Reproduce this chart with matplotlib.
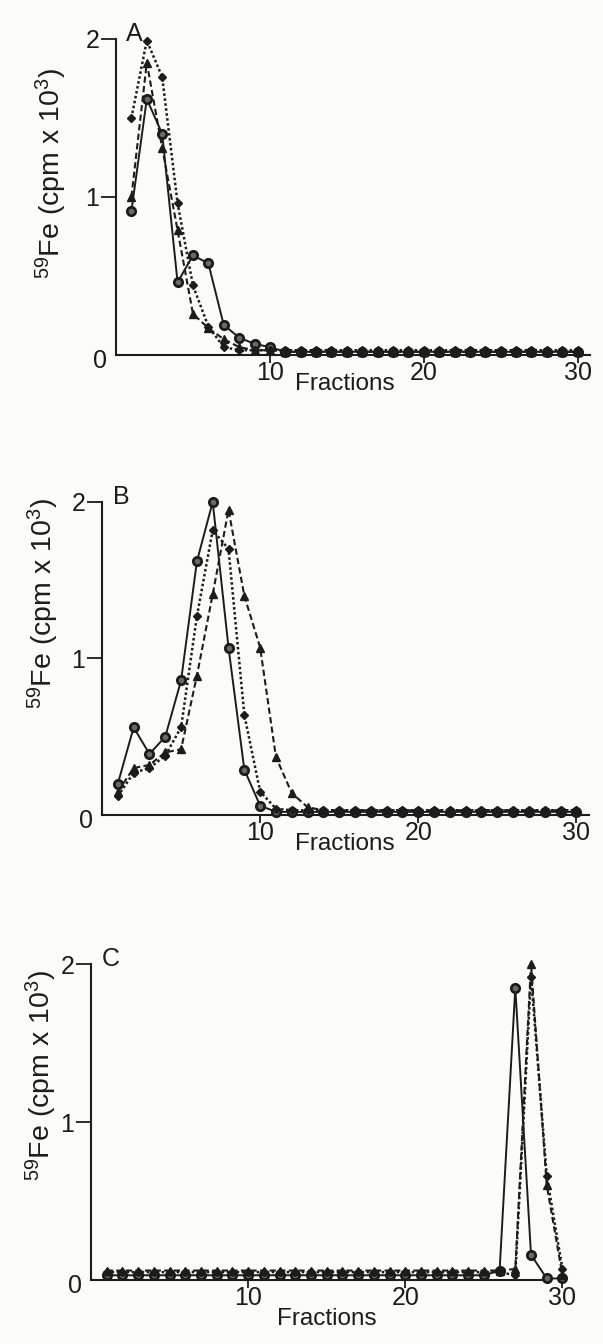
import matplotlib
matplotlib.use('Agg')
import matplotlib.pyplot as plt

plt.rcParams['font.family'] = ['Liberation Sans', 'DejaVu Sans']
plt.rcParams['mathtext.fontset'] = 'custom'
plt.rcParams['mathtext.rm'] = 'Liberation Sans'
plt.rcParams['mathtext.it'] = 'Liberation Sans'

INK = '#1c1c1c'

fractions = list(range(1, 31))

# panel A
a_circles = [0.91, 1.62, 1.40, 0.46, 0.63, 0.58, 0.19, 0.11, 0.07, 0.05,
             0.02, 0.02, 0.02, 0.02, 0.02, 0.02, 0.02, 0.02, 0.02, 0.02,
             0.02, 0.02, 0.02, 0.02, 0.02, 0.02, 0.02, 0.02, 0.02, 0.02]
a_triangles = [1.00, 1.85, 1.31, 0.79, 0.26, 0.17, 0.10, 0.05, 0.03, 0.03,
               0.02, 0.02, 0.02, 0.02, 0.02, 0.02, 0.02, 0.02, 0.02, 0.02,
               0.02, 0.02, 0.02, 0.02, 0.02, 0.02, 0.02, 0.02, 0.02, 0.02]
a_diamonds = [1.50, 1.99, 1.76, 0.96, 0.44, 0.18, 0.05, 0.03, 0.03, 0.03,
              0.03, 0.03, 0.03, 0.03, 0.03, 0.03, 0.03, 0.03, 0.03, 0.03,
              0.03, 0.03, 0.03, 0.03, 0.03, 0.03, 0.03, 0.03, 0.03, 0.03]

# panel B
b_circles = [0.20, 0.56, 0.39, 0.50, 0.86, 1.62, 2.00, 1.07, 0.29, 0.06,
             0.02, 0.02, 0.02, 0.02, 0.02, 0.02, 0.02, 0.02, 0.02, 0.02,
             0.02, 0.02, 0.02, 0.02, 0.02, 0.02, 0.02, 0.02, 0.02, 0.02]
b_diamonds = [0.12, 0.27, 0.30, 0.38, 0.56, 1.27, 1.82, 1.70, 0.64, 0.15,
              0.04, 0.03, 0.03, 0.03, 0.03, 0.03, 0.03, 0.03, 0.03, 0.03,
              0.03, 0.03, 0.03, 0.03, 0.03, 0.03, 0.03, 0.03, 0.03, 0.03]
b_triangles = [0.15, 0.30, 0.32, 0.40, 0.42, 0.89, 1.41, 1.95, 1.40, 1.07,
               0.37, 0.14, 0.05, 0.03, 0.03, 0.03, 0.03, 0.03, 0.03, 0.03,
               0.03, 0.03, 0.03, 0.03, 0.03, 0.03, 0.03, 0.03, 0.03, 0.03]

# panel C
c_circles = [0.03, 0.03, 0.03, 0.03, 0.03, 0.03, 0.03, 0.03, 0.03, 0.03,
             0.03, 0.03, 0.03, 0.03, 0.03, 0.03, 0.03, 0.03, 0.03, 0.03,
             0.03, 0.03, 0.03, 0.03, 0.03, 0.06, 1.85, 0.16, 0.01, 0.01]
c_triangles = [0.06, 0.06, 0.06, 0.06, 0.06, 0.06, 0.06, 0.06, 0.06, 0.06,
               0.06, 0.06, 0.06, 0.06, 0.06, 0.06, 0.06, 0.06, 0.06, 0.06,
               0.06, 0.06, 0.06, 0.06, 0.06, 0.06, 0.07, 2.00, 0.60, 0.03]
c_diamonds = [0.05, 0.05, 0.05, 0.05, 0.05, 0.05, 0.05, 0.05, 0.05, 0.05,
              0.05, 0.05, 0.05, 0.05, 0.05, 0.05, 0.05, 0.05, 0.05, 0.05,
              0.05, 0.05, 0.05, 0.05, 0.05, 0.05, 0.03, 1.92, 0.66, 0.07]

y_ticks = [1, 2]
x_ticks = [10, 20, 30]
y_label = r'$^{\mathrm{59}}$Fe (cpm x 10$^{\mathrm{3}}$)'


def draw_panel(ax, letter, circles, triangles, diamonds):
    ax.plot(fractions, circles, color=INK, linestyle='-', linewidth=1.4,
            marker='o', markersize=6, markeredgewidth=2.0,
            markerfacecolor='#6a6a6a', markeredgecolor=INK, clip_on=False, zorder=3)
    ax.plot(fractions, triangles, color=INK, linestyle=(0, (3, 1.6)), linewidth=1.5,
            marker='^', markersize=5.5, markerfacecolor=INK, markeredgecolor=INK,
            clip_on=False, zorder=4)
    ax.plot(fractions, diamonds, color=INK, linestyle=(0, (1, 1)), linewidth=1.8,
            marker='D', markersize=4.5, markerfacecolor=INK, markeredgecolor=INK,
            clip_on=False, zorder=5)

    ax.set_xlim(0, 30.8)
    ax.set_ylim(0, 2)
    ax.set_facecolor('none')
    for side in ['top', 'right']:
        ax.spines[side].set_visible(False)
    for side in ['left', 'bottom']:
        ax.spines[side].set_linewidth(1.5)
        ax.spines[side].set_color(INK)

    ax.set_yticks(y_ticks)
    ax.set_yticklabels([str(t) for t in y_ticks])
    ax.set_xticks(x_ticks)
    ax.set_xticklabels([str(t) for t in x_ticks])
    ax.tick_params(axis='y', direction='out', length=11, width=1.3,
                   pad=1, labelsize=18, colors=INK)
    ax.tick_params(axis='x', direction='out', length=6, width=1.3,
                   pad=-2, labelsize=18, colors=INK)

    ax.text(-0.018, -0.02, '0', transform=ax.transAxes, ha='right', va='center',
            fontsize=18, color=INK)
    ax.text(0.022, 0.995, letter, transform=ax.transAxes, ha='left', va='baseline',
            fontsize=18, color=INK)


fig = plt.figure(figsize=(6.03, 13.44), dpi=100)
fig.patch.set_facecolor('#fbfbfa')

ax_a = fig.add_axes([0.1924, 0.7359, 0.786, 0.2351])
ax_b = fig.add_axes([0.1692, 0.3936, 0.8076, 0.2329])
ax_c = fig.add_axes([0.1509, 0.0476, 0.8027, 0.2351])

draw_panel(ax_a, 'A', a_circles, a_triangles, a_diamonds)
draw_panel(ax_b, 'B', b_circles, b_triangles, b_diamonds)
draw_panel(ax_c, 'C', c_circles, c_triangles, c_diamonds)
ax_c.spines['bottom'].set_bounds(0, 29.2)

# axis titles
fig.text(51 / 603, 1 - 173 / 1344, y_label, rotation=90, ha='center', va='center',
         fontsize=20.5, color=INK)
fig.text(43 / 603, 1 - 603 / 1344, y_label, rotation=90, ha='center', va='center',
         fontsize=20.5, color=INK)
fig.text(41 / 603, 1 - 1075 / 1344, y_label, rotation=90, ha='center', va='center',
         fontsize=20.5, color=INK)

fig.text(345 / 603, 1 - 384 / 1344, 'Fractions', ha='center', va='center',
         fontsize=17.5, color=INK)
fig.text(345 / 603, 1 - 844 / 1344, 'Fractions', ha='center', va='center',
         fontsize=17.5, color=INK)
fig.text(327 / 603, 1 - 1319 / 1344, 'Fractions', ha='center', va='center',
         fontsize=17.5, color=INK)

fig.savefig('out.png', dpi=100, facecolor=fig.get_facecolor())
